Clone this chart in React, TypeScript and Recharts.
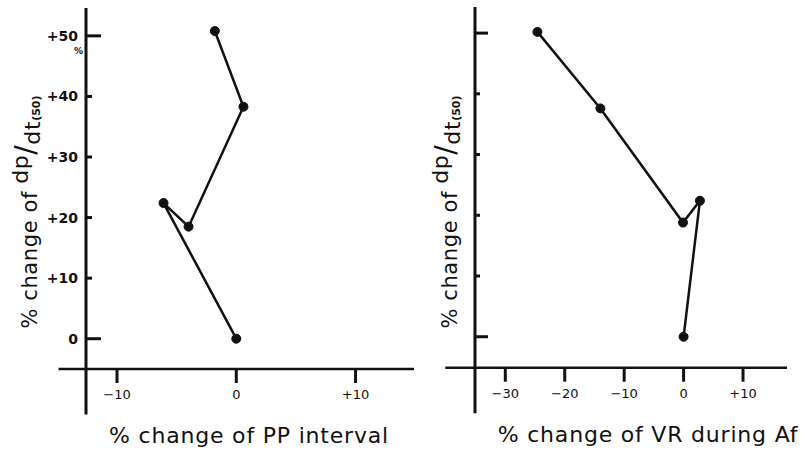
import React from "react";
import { LineChart, Line, XAxis, YAxis, ReferenceLine } from "recharts";

// left panel: % change of PP interval vs % change of dp/dt(50)
const ppInterval = [-1.8, 0.6, -4.0, -6.1, 0];
const dpdtPP = [50.8, 38.3, 18.5, 22.4, 0];

// right panel: % change of VR during Af vs % change of dp/dt(50)
const vrChange = [-24.6, -14.0, -0.1, 2.75, 0];
const dpdtVR = [50.2, 37.6, 18.8, 22.4, 0];

const dpdtTicks = [0, 10, 20, 30, 40, 50];
const ppTicks = [-10, 0, 10];
const vrTicks = [-30, -20, -10, 0, 10];

const ppData = ppInterval.map((x, i) => ({ x, y: dpdtPP[i] }));
const vrData = vrChange.map((x, i) => ({ x, y: dpdtVR[i] }));

const INK = "#111";
const FONT = '"DejaVu Sans", sans-serif';

const signed = (v: number) => (v > 0 ? `+${v}` : v < 0 ? `\u2212${Math.abs(v)}` : "0");

function LeftYTick({ x, y, payload }: any) {
  const v = payload.value;
  const long = v === 0 || v === 50;
  return (
    <g>
      <line x1={x} x2={x + (long ? 15 : 6)} y1={y} y2={y} stroke={INK} strokeWidth={3} />
      <text x={x - 8} y={y} dy={5} textAnchor="end" fontSize={14} fontWeight={700} fill={INK}>
        {signed(v)}
      </text>
      {v === 50 && (
        <text x={x - 3} y={y + 18} textAnchor="end" fontSize={9} fontWeight={700} fill={INK}>
          %
        </text>
      )}
    </g>
  );
}

function RightYTick({ x, y, payload }: any) {
  const long = payload.value === 0 || payload.value === 50;
  return <line x1={x} x2={x + (long ? 13 : 5)} y1={y} y2={y} stroke={INK} strokeWidth={3} />;
}

function DpDtTitle({ left, top }: { left: number; top: number }) {
  return (
    <div
      style={{
        position: "absolute",
        left,
        top,
        transform: "translate(-50%, -50%) rotate(-90deg)",
        whiteSpace: "nowrap",
        fontFamily: FONT,
        fontSize: 21,
        letterSpacing: 0.6,
        lineHeight: "26px",
        color: INK,
      }}
    >
      % change of{" "}
      <span style={{ position: "relative", top: -9, fontSize: 22 }}>dp</span>
      <span style={{ position: "relative", top: -2, fontSize: 28 }}>/</span>
      <span style={{ position: "relative", top: 3, fontSize: 22 }}>dt</span>
      <span style={{ position: "relative", top: 3, fontSize: 11, fontWeight: 700, letterSpacing: 0 }}>(50)</span>
    </div>
  );
}

type PanelProps = {
  data: { x: number; y: number }[];
  xDomain: [number, number];
  yDomain: [number, number];
  xExt: number;
  yExt: number;
  xTicks: number[];
  tick: any;
  title: string;
  titleDx: number;
  width: number;
  margin: { top: number; right: number; bottom: number; left: number };
};

function Panel(p: PanelProps) {
  const [x0, x1] = p.xDomain;
  const [y0, y1] = p.yDomain;
  return (
    <LineChart width={p.width} height={451} data={p.data} margin={p.margin}>
      <XAxis
        dataKey="x"
        type="number"
        domain={p.xDomain}
        allowDataOverflow
        ticks={p.xTicks}
        axisLine={false}
        tickLine={{ stroke: INK, strokeWidth: 3 }}
        tickSize={14}
        tickMargin={7}
        tick={{ fontSize: 13, fill: INK }}
        tickFormatter={signed}
        height={80}
        label={{
          value: p.title,
          position: "insideBottom",
          offset: 6,
          dx: p.titleDx,
          fontSize: 22,
          letterSpacing: 0.8,
          fill: INK,
        }}
      />
      <YAxis
        dataKey="y"
        type="number"
        domain={p.yDomain}
        allowDataOverflow
        ticks={dpdtTicks}
        axisLine={false}
        tickLine={false}
        tickSize={0}
        tickMargin={0}
        tick={p.tick}
        width={60}
      />
      <ReferenceLine
        segment={[
          { x: x0, y: p.yExt },
          { x: x0, y: y1 },
        ]}
        stroke={INK}
        strokeWidth={3}
        ifOverflow="visible"
      />
      <ReferenceLine
        segment={[
          { x: p.xExt, y: y0 },
          { x: x1, y: y0 },
        ]}
        stroke={INK}
        strokeWidth={2.5}
        ifOverflow="visible"
      />
      <Line
        dataKey="y"
        type="linear"
        stroke={INK}
        strokeWidth={2.5}
        dot={{ r: 4.5, fill: INK, stroke: INK, strokeWidth: 1 }}
        isAnimationActive={false}
      />
    </LineChart>
  );
}

export default function App() {
  return (
    <div
      style={{
        position: "absolute",
        left: 0,
        top: 0,
        width: 801,
        height: 451,
        background: "#fff",
        fontFamily: FONT,
        overflow: "hidden",
      }}
    >
      <div style={{ position: "absolute", left: 0, top: 0 }}>
        <Panel
          data={ppData}
          xDomain={[-12.6, 14.9]}
          yDomain={[-5, 54.6]}
          xExt={-14.9}
          yExt={-12.5}
          xTicks={ppTicks}
          tick={<LeftYTick />}
          title="% change of PP interval"
          titleDx={-1}
          width={420}
          margin={{ top: 8, right: 6, bottom: 2, left: 26 }}
        />
      </div>
      <div style={{ position: "absolute", left: 400, top: 0 }}>
        <Panel
          data={vrData}
          xDomain={[-35.1, 17.4]}
          yDomain={[-5.1, 54.3]}
          xExt={-40.1}
          yExt={-12.6}
          xTicks={vrTicks}
          tick={<RightYTick />}
          title="% change of VR during Af"
          titleDx={17}
          width={401}
          margin={{ top: 7, right: 14, bottom: 3.3, left: 15 }}
        />
      </div>
      <DpDtTitle left={31} top={212} />
      <DpDtTitle left={451} top={212} />
    </div>
  );
}
